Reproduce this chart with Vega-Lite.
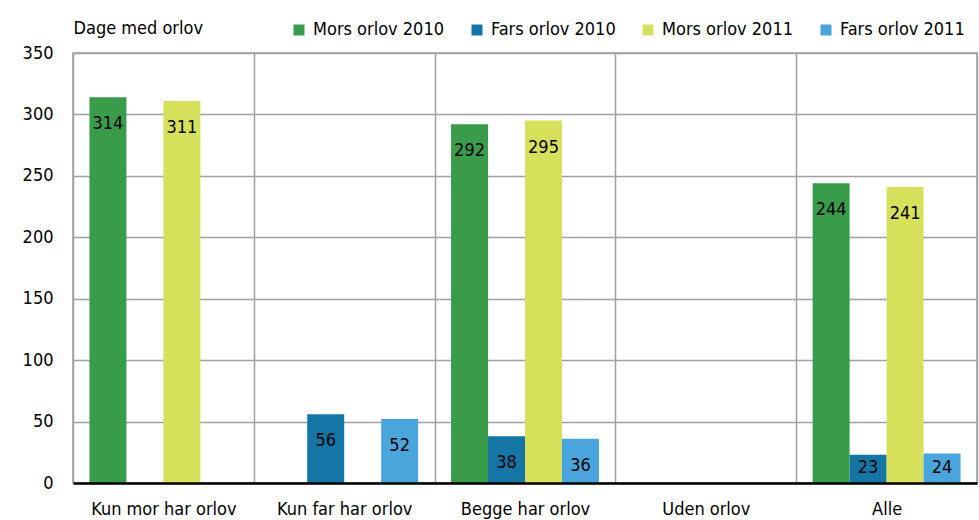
{
  "$schema": "https://vega.github.io/schema/vega-lite/v6.json",
  "width": 904,
  "height": 430,
  "autosize": {"type": "none"},
  "padding": {"left": 73, "top": 53, "right": 2, "bottom": 37},
  "background": "white",
  "config": {
    "font": "DejaVu Sans Condensed, Roboto Condensed, Roboto, sans-serif",
    "view": {"stroke": "#a0a0a0", "strokeWidth": 1.5},
    "axis": {"labelColor": "#000000", "titleColor": "#000000", "labelFontSize": 18, "titleFontSize": 18, "titleFontWeight": "normal", "gridColor": "#a0a0a0", "gridWidth": 1.5, "gridOpacity": 1},
    "legend": {"labelColor": "#000000", "labelFontSize": 18}
  },
  "data": {
    "values": [
      {"cat": "Kun mor har orlov", "series": "Mors orlov 2010", "value": 314},
      {"cat": "Kun mor har orlov", "series": "Mors orlov 2011", "value": 311},
      {"cat": "Kun far har orlov", "series": "Fars orlov 2010", "value": 56},
      {"cat": "Kun far har orlov", "series": "Fars orlov 2011", "value": 52},
      {"cat": "Begge har orlov", "series": "Mors orlov 2010", "value": 292},
      {"cat": "Begge har orlov", "series": "Fars orlov 2010", "value": 38},
      {"cat": "Begge har orlov", "series": "Mors orlov 2011", "value": 295},
      {"cat": "Begge har orlov", "series": "Fars orlov 2011", "value": 36},
      {"cat": "Alle", "series": "Mors orlov 2010", "value": 244},
      {"cat": "Alle", "series": "Fars orlov 2010", "value": 23},
      {"cat": "Alle", "series": "Mors orlov 2011", "value": 241},
      {"cat": "Alle", "series": "Fars orlov 2011", "value": 24}
    ]
  },
  "encoding": {
    "x": {
      "field": "cat",
      "type": "nominal",
      "scale": {"domain": ["Kun mor har orlov", "Kun far har orlov", "Begge har orlov", "Uden orlov", "Alle"], "paddingInner": 0, "paddingOuter": 0},
      "axis": {"title": null, "labelAngle": 0, "ticks": false, "tickBand": "extent", "grid": true, "domainColor": "#000000", "domainWidth": 2.5, "labelPadding": 17, "zindex": 1}
    },
    "xOffset": {
      "field": "series",
      "type": "nominal",
      "scale": {"domain": ["Mors orlov 2010", "Fars orlov 2010", "Mors orlov 2011", "Fars orlov 2011"], "paddingInner": 0, "paddingOuter": 0.445}
    },
    "y": {
      "field": "value",
      "type": "quantitative",
      "scale": {"domain": [0, 350]},
      "axis": {"values": [0, 50, 100, 150, 200, 250, 300, 350], "ticks": false, "domain": false, "labelPadding": 20, "title": "Dage med orlov", "titleAngle": 0, "titleAlign": "left", "titleBaseline": "middle", "titleX": 0, "titleY": -25}
    }
  },
  "layer": [
    {
      "mark": {"type": "bar"},
      "encoding": {
        "color": {
          "field": "series",
          "type": "nominal",
          "scale": {"domain": ["Mors orlov 2010", "Fars orlov 2010", "Mors orlov 2011", "Fars orlov 2011"], "range": ["#389c4a", "#1575a5", "#d7e05b", "#4aa5dc"]},
          "legend": {"title": null, "orient": "none", "direction": "horizontal", "legendX": 217, "legendY": -32, "symbolType": "square", "symbolSize": 121, "symbolStrokeWidth": 0, "symbolOpacity": 1, "labelOffset": 5, "columnPadding": 23}
        }
      }
    },
    {
      "transform": [{"filter": "datum.value >= 30"}],
      "mark": {"type": "text", "baseline": "alphabetic", "dy": 32, "fontSize": 18, "color": "#000000"},
      "encoding": {"text": {"field": "value", "type": "quantitative"}}
    },
    {
      "transform": [{"filter": "datum.value < 30"}],
      "mark": {"type": "text", "baseline": "alphabetic", "dy": -10, "fontSize": 18, "color": "#000000"},
      "encoding": {"y": {"datum": 0}, "text": {"field": "value", "type": "quantitative"}}
    }
  ]
}
